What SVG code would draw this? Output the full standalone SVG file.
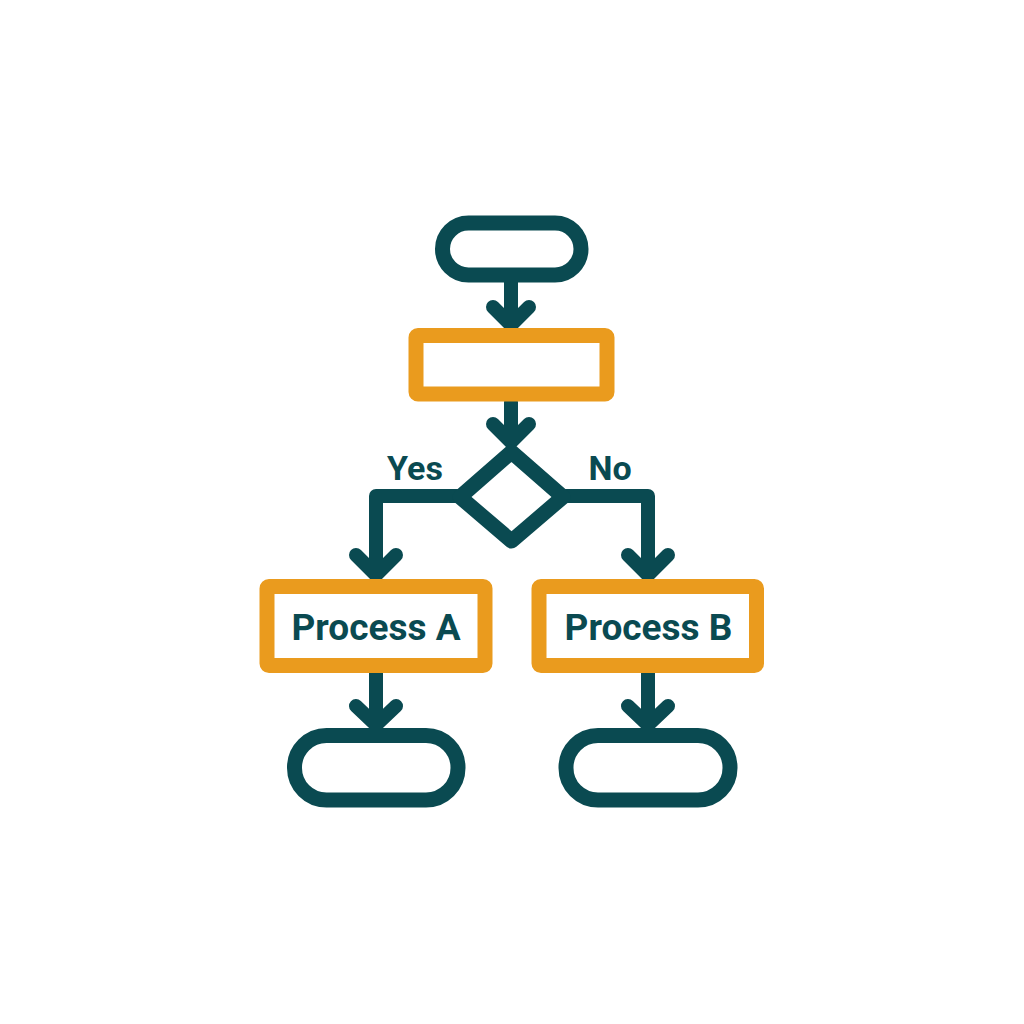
<svg xmlns="http://www.w3.org/2000/svg" width="1024" height="1024" viewBox="0 0 1024 1024">
  <style>
    .term { fill: #ffffff; stroke: #0a4a51; stroke-width: 15; }
    .proc { fill: #ffffff; stroke: #ea9b1e; stroke-width: 15; }
    .dec { fill: #ffffff; stroke: #0a4a51; stroke-width: 15; stroke-linejoin: round; }
    .flow { fill: none; stroke: #0a4a51; stroke-width: 14; stroke-linecap: round; stroke-linejoin: round; }
    .label { font-family: Roboto, "Liberation Sans", sans-serif; font-weight: bold; fill: #0a4a51; }
  </style>
  <rect width="1024" height="1024" fill="#ffffff"/>

  <!-- connectors: stems with chevron heads -->
  <g id="connectors">
    <path class="flow" d="M511 282 V325 M493 307 L511 325 L529 307"/>
    <path class="flow" d="M511 402 V442 M493 424 L511 442 L529 424"/>
    <path class="flow" d="M460 496 H376 V575 M356 555 L376 575 L396 555"/>
    <path class="flow" d="M563 496 H648 V575 M628 555 L648 575 L668 555"/>
    <path class="flow" d="M376 673 V725 M356 706 L376 725 L396 706"/>
    <path class="flow" d="M648 673 V725 M628 706 L648 725 L668 706"/>
    <text class="label" x="415" y="480" font-size="34" text-anchor="middle">Yes</text>
    <text class="label" x="610" y="480" font-size="34" text-anchor="middle">No</text>
  </g>

  <g id="start">
    <rect class="term" x="442.5" y="223" width="138.5" height="52" rx="26"/>
  </g>

  <g id="step">
    <rect class="proc" x="416" y="335.5" width="191" height="58.5" rx="2"/>
  </g>

  <g id="decision">
    <polygon class="dec" points="511.5,452 563,497 511.5,541 460,497"/>
  </g>

  <g id="process-a">
    <rect class="proc" x="267" y="586.5" width="218" height="79" rx="2"/>
    <text class="label" x="376" y="640" font-size="37" text-anchor="middle">Process A</text>
  </g>

  <g id="process-b">
    <rect class="proc" x="539" y="586.5" width="217.5" height="79" rx="2"/>
    <text class="label" x="648.5" y="640" font-size="37" text-anchor="middle">Process B</text>
  </g>

  <g id="end-a">
    <rect class="term" x="294.5" y="735.5" width="163.5" height="64.5" rx="32"/>
  </g>

  <g id="end-b">
    <rect class="term" x="566" y="735.5" width="164" height="64.5" rx="32"/>
  </g>
</svg>
